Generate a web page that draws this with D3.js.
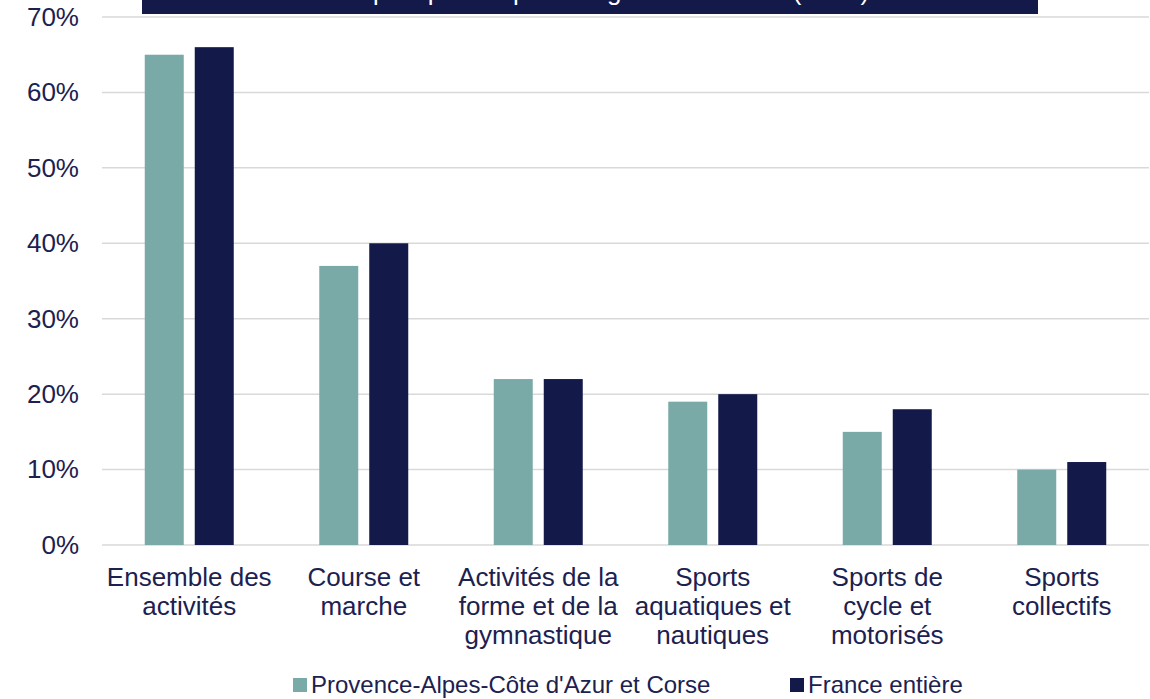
<!DOCTYPE html>
<html>
<head>
<meta charset="utf-8">
<script src="https://d3js.org/d3.v7.min.js"></script>
<style>
  body { margin: 0; background: #fff; }
  svg { display: block; font-family: "Liberation Sans", Arial, sans-serif; }
</style>
</head>
<body>
<div id="chart"></div>
<script>
// categories, wrapped as they appear under the axis
const categories = [
  ["Ensemble des", "activités"],
  ["Course et", "marche"],
  ["Activités de la", "forme et de la", "gymnastique"],
  ["Sports", "aquatiques et", "nautiques"],
  ["Sports de", "cycle et", "motorisés"],
  ["Sports", "collectifs"]
];
const seriesNames = ["Provence-Alpes-Côte d'Azur et Corse", "France entière"];
const pacaValues = [0.65, 0.37, 0.22, 0.19, 0.15, 0.10];
const franceValues = [0.66, 0.40, 0.22, 0.20, 0.18, 0.11];
const yTicks = [0, 0.1, 0.2, 0.3, 0.4, 0.5, 0.6, 0.7];
const colors = ["#7aaaa7", "#131949"];

const width = 1150, height = 699;
const plotLeft = 102, plotRight = 1149, plotTop = 17, plotBottom = 545;
const textColor = "#1c2150";

const svg = d3.select("#chart").append("svg")
  .attr("width", width)
  .attr("height", height);

const keys = categories.map(function(c) { return c.join(" "); });

const x0 = d3.scaleBand().domain(keys).range([plotLeft, plotRight]).padding(0);
const groupW = 89;
const x1 = d3.scaleBand().domain([0, 1]).range([0, groupW]).paddingInner(0.22);
const y = d3.scaleLinear().domain([0, 0.7]).range([plotBottom, plotTop]);

// grid lines
svg.append("g")
  .selectAll("line")
  .data(yTicks)
  .join("line")
    .attr("x1", plotLeft)
    .attr("x2", plotRight)
    .attr("y1", function(d) { return y(d); })
    .attr("y2", function(d) { return y(d); })
    .attr("stroke", "#d9d9d9")
    .attr("stroke-width", 1.5);

// y axis labels
const yAxis = svg.append("g")
  .attr("transform", "translate(" + plotLeft + ",0)")
  .call(d3.axisLeft(y).tickValues(yTicks).tickFormat(d3.format(".0%")).tickSize(0).tickPadding(23));
yAxis.select(".domain").remove();
yAxis.selectAll("text")
  .attr("fill", textColor)
  .style("font-size", "26px")
  .style("font-family", "Liberation Sans, Arial, sans-serif");

// bars
const rows = keys.map(function(k, i) { return { key: k, vals: [pacaValues[i], franceValues[i]] }; });
const offset = (x0.bandwidth() - groupW) / 2;

const groups = svg.append("g")
  .selectAll("g")
  .data(rows)
  .join("g")
    .attr("transform", function(d) { return "translate(" + (x0(d.key) + offset) + ",0)"; });

groups.selectAll("rect")
  .data(function(d) { return d.vals.map(function(v, i) { return { i: i, v: v }; }); })
  .join("rect")
    .attr("x", function(d) { return x1(d.i); })
    .attr("y", function(d) { return y(d.v); })
    .attr("width", x1.bandwidth())
    .attr("height", function(d) { return plotBottom - y(d.v); })
    .attr("fill", function(d) { return colors[d.i]; });

// category labels
const lab = svg.append("g")
  .selectAll("text")
  .data(categories)
  .join("text")
    .attr("x", function(d, i) { return x0(keys[i]) + x0.bandwidth() / 2; })
    .attr("y", 586)
    .attr("text-anchor", "middle")
    .attr("fill", textColor)
    .style("font-size", "26px");
lab.selectAll("tspan")
  .data(function(d) { return d; })
  .join("tspan")
    .attr("x", function() { return d3.select(this.parentNode).attr("x"); })
    .attr("dy", function(d, i) { return i === 0 ? 0 : 29; })
    .text(function(d) { return d; });

// title box, mostly off the top of the picture
svg.append("rect")
  .attr("x", 142)
  .attr("y", -40)
  .attr("width", 896)
  .attr("height", 54)
  .attr("fill", "#131949");
svg.append("text")
  .attr("x", 590)
  .attr("y", 0)
  .attr("text-anchor", "middle")
  .attr("fill", "#fff")
  .style("font-size", "26px")
  .text("Pratique sportive par catégorie d'activités (en %)");

// legend
const legendX = [293, 790];
const legend = svg.append("g")
  .selectAll("g")
  .data(seriesNames)
  .join("g")
    .attr("transform", function(d, i) { return "translate(" + legendX[i] + ",678)"; });
legend.append("rect")
  .attr("width", 14)
  .attr("height", 14)
  .attr("fill", function(d, i) { return colors[i]; });
legend.append("text")
  .attr("x", 18)
  .attr("y", 15)
  .attr("fill", textColor)
  .style("font-size", "24px")
  .text(function(d) { return d; });
</script>
</body>
</html>
